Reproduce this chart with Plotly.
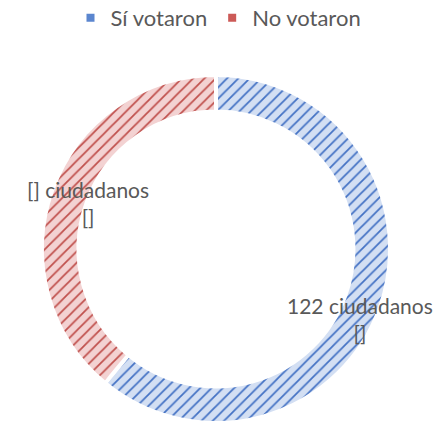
import math
import plotly.graph_objects as go

categories = ["Sí votaron", "No votaron"]
values = [122, 78]
value_labels = ["122", "[]"]
pct_labels = ["[]", "[]"]

fg_colors = ["#4472C4", "#C0504D"]
bg_colors = ["#D3DFF3", "#F3D2D2"]
legend_colors = ["#5B86CF", "#CC5A57"]

W, H = 437, 423
cx, cy, R = 216, 249, 174

fig = go.Figure(go.Pie(
    labels=categories,
    values=values,
    hole=0.79,
    sort=False,
    direction="clockwise",
    rotation=0,
    textinfo="none",
    hoverinfo="label+value",
    marker=dict(
        colors=bg_colors,
        line=dict(color="white", width=4),
        pattern=dict(shape="/", fgcolor=fg_colors, bgcolor=bg_colors,
                     size=8, solidity=0.22, fillmode="replace"),
    ),
    domain=dict(x=[(cx - R) / W, (cx + R) / W], y=[0, 1 - (cy - R) / H]),
    showlegend=False,
))

# legend entries with square markers
for name, col in zip(categories, legend_colors):
    fig.add_trace(go.Scatter(
        x=[None], y=[None], mode="markers", name=name,
        marker=dict(symbol="square", size=8, color=col),
        showlegend=True, hoverinfo="skip",
    ))

# data labels placed around slice mid-angles
label_radii = [160, 136]
label_angle_shift = [6, 0]
total = sum(values)
start = 0.0
annotations = []
for i, v in enumerate(values):
    frac = v / total
    mid = (start + frac / 2) * 360 + label_angle_shift[i]
    start += frac
    a = math.radians(mid)
    r = label_radii[i]
    px = cx + r * math.sin(a)
    py = cy - r * math.cos(a)
    annotations.append(dict(
        x=px / W, y=1 - py / H, xref="paper", yref="paper",
        text=f"{value_labels[i]} ciudadanos<br>{pct_labels[i]}",
        showarrow=False, font=dict(size=21, color="#595959", family="Lato"),
        xanchor="center", yanchor="middle",
    ))

fig.update_layout(
    width=W, height=H,
    margin=dict(l=0, r=0, t=0, b=0, autoexpand=False),
    paper_bgcolor="white",
    plot_bgcolor="white",
    font=dict(family="Lato", color="#595959"),
    xaxis=dict(visible=False),
    yaxis=dict(visible=False),
    legend=dict(orientation="h", x=0.5, xanchor="center", y=1.007, yanchor="top",
                font=dict(size=22, color="#595959"), itemwidth=30,
                bgcolor="rgba(0,0,0,0)"),
    annotations=annotations,
)

fig.write_html("out.html", config={"displayModeBar": False},
               post_script="document.body.style.margin='0px';")
